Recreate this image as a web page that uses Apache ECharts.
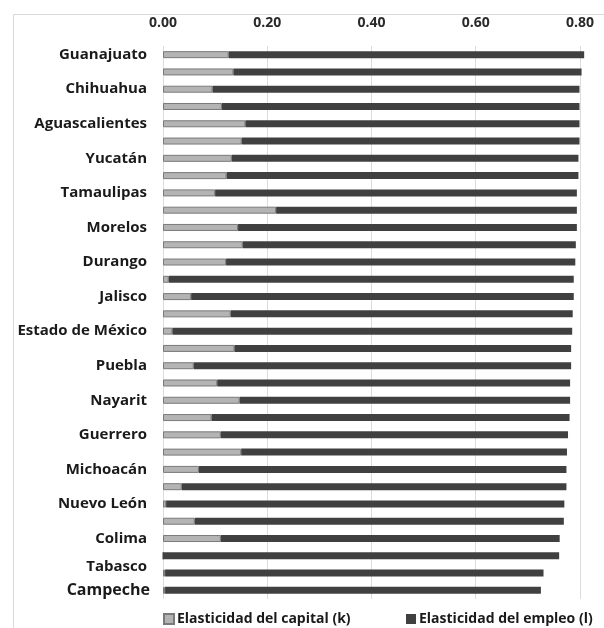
<!DOCTYPE html>
<html>
<head>
<meta charset="utf-8">
<script src="https://cdn.jsdelivr.net/npm/echarts@6/dist/echarts.min.js"></script>
<style>
  html, body { margin: 0; padding: 0; background: #ffffff; }
  #chart { width: 604px; height: 628px; }
</style>
</head>
<body>
<div id="chart"></div>
<script>
// States ordered top to bottom; rows without a printed name keep an empty label.
const states = [
  'Guanajuato', '', 'Chihuahua', '', 'Aguascalientes', '', 'Yucatán', '',
  'Tamaulipas', '', 'Morelos', '', 'Durango', '', 'Jalisco', '',
  'Estado de México', '', 'Puebla', '', 'Nayarit', '', 'Guerrero', '',
  'Michoacán', '', 'Nuevo León', '', 'Colima', '', 'Tabasco', 'Campeche'
];

// Elasticidad del capital (k)
const capital = [
  0.126, 0.135, 0.095, 0.113, 0.158, 0.151, 0.132, 0.122,
  0.100, 0.217, 0.144, 0.153, 0.121, 0.011, 0.054, 0.130,
  0.018, 0.137, 0.059, 0.104, 0.147, 0.093, 0.111, 0.150,
  0.069, 0.036, 0.006, 0.061, 0.111, 0.000, 0.004, 0.004
];

// Elasticidad del empleo (l), stacked after k
const empleo = [
  0.682, 0.668, 0.704, 0.686, 0.641, 0.648, 0.665, 0.675,
  0.694, 0.577, 0.650, 0.639, 0.670, 0.777, 0.734, 0.656,
  0.767, 0.646, 0.724, 0.677, 0.634, 0.687, 0.666, 0.625,
  0.705, 0.738, 0.764, 0.708, 0.650, 0.760, 0.726, 0.721
];

const xTicks = { min: 0, max: 0.8, interval: 0.2 };
const seriesNames = ['Elasticidad del capital (k)', 'Elasticidad del empleo (l)'];

const FONT = '"Open Sans", Lato, sans-serif';
const INK = '#1a1a1a';

const legendText = { fontFamily: FONT, fontWeight: 'bold', fontSize: 14, color: INK, padding: [0, 0, 0, -2] };

const chart = echarts.init(document.getElementById('chart'), null, { renderer: 'canvas' });

chart.setOption({
  backgroundColor: '#ffffff',
  animation: false,
  graphic: [{
    type: 'rect',
    left: 11, top: 12,
    shape: { width: 700, height: 700 },
    style: { fill: 'none', stroke: '#d9d9d9', lineWidth: 1 },
    silent: true,
    z: -10
  }],
  grid: { left: 163, right: 24, top: 46, bottom: 29, containLabel: false },
  legend: [
    {
      data: [seriesNames[0]],
      left: 158, top: 607,
      itemWidth: 10, itemHeight: 10,
      icon: 'rect',
      textStyle: legendText
    },
    {
      data: [seriesNames[1]],
      left: 401, top: 607,
      itemWidth: 10, itemHeight: 10,
      icon: 'rect',
      textStyle: legendText
    }
  ],
  xAxis: {
    type: 'value',
    position: 'top',
    min: xTicks.min, max: xTicks.max, interval: xTicks.interval,
    axisLine: { show: false },
    axisTick: { show: false },
    splitLine: { show: true, lineStyle: { color: '#dcdcdc', width: 1 } },
    axisLabel: {
      margin: 16,
      fontFamily: FONT, fontWeight: 'bold', fontSize: 14, color: '#2a2a2a',
      formatter: v => v.toFixed(2)
    }
  },
  yAxis: {
    type: 'category',
    inverse: true,
    data: states,
    axisLine: { show: false },
    axisTick: { show: false },
    axisLabel: {
      interval: 0,
      margin: 16,
      fontFamily: FONT, fontWeight: 'bold', fontSize: 15, color: INK,
      formatter: function (name) {
        if (name === 'Campeche') return '{big|' + name + '}';
        if (name === 'Tabasco') return '{up|' + name + '}';
        return name;
      },
      rich: {
        big: { fontFamily: FONT, fontWeight: 'bold', fontSize: 16, color: INK, padding: [0, -3, 0, 0] },
        up: { fontFamily: FONT, fontWeight: 'bold', fontSize: 15, color: INK, padding: [0, 0, 12, 0] }
      }
    }
  },
  series: [
    {
      name: seriesNames[0],
      type: 'bar',
      stack: 'total',
      barWidth: 7,
      clip: false,
      data: capital,
      itemStyle: { color: '#b4b4b4', borderColor: '#7a7a7a', borderWidth: 1 }
    },
    {
      name: seriesNames[1],
      type: 'bar',
      stack: 'total',
      barWidth: 7,
      clip: false,
      data: empleo,
      itemStyle: { color: '#404040' }
    }
  ]
});
</script>
</body>
</html>
